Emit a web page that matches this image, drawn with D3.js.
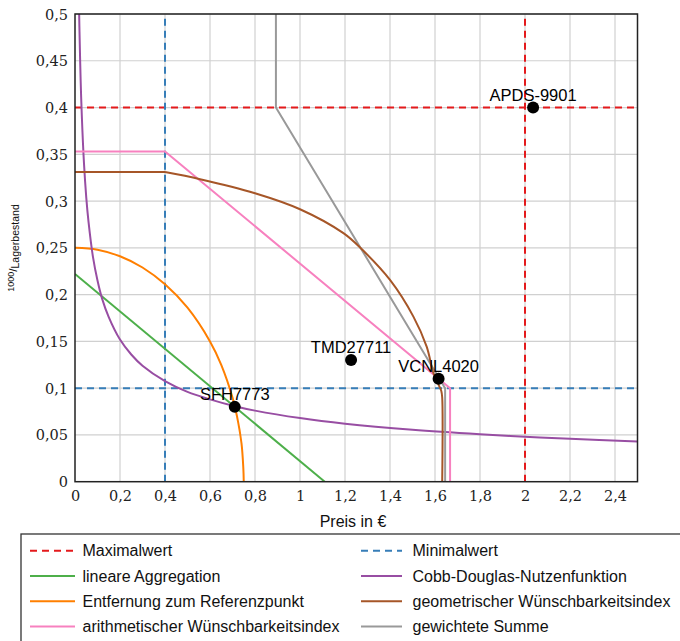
<!DOCTYPE html>
<html>
<head>
<meta charset="utf-8">
<script src="https://cdn.jsdelivr.net/npm/d3@7"></script>
<style>
  body { margin: 0; background: #fff; }
  svg { display: block; }
</style>
</head>
<body>
<svg id="chart"></svg>
<script>
// values
const xTicks = [0, 0.2, 0.4, 0.6, 0.8, 1, 1.2, 1.4, 1.6, 1.8, 2, 2.2, 2.4];
const yTicks = [0, 0.05, 0.1, 0.15, 0.2, 0.25, 0.3, 0.35, 0.4, 0.45, 0.5];

const maxX = 2, maxY = 0.4;
const minX = 0.4, minY = 0.1;

const linearX = [0, 1.11];
const linearY = [0.222, 0];

const cobbX = [0.0185, 0.02, 0.025, 0.03, 0.04, 0.05, 0.06, 0.08, 0.1, 0.12, 0.15, 0.2, 0.25, 0.3, 0.4, 0.5, 0.6, 0.71, 0.8, 1, 1.2, 1.5, 1.8, 2, 2.2, 2.5];
const cobbY = [0.5, 0.481, 0.43, 0.393, 0.34, 0.304, 0.278, 0.24, 0.215, 0.196, 0.176, 0.152, 0.136, 0.124, 0.1075, 0.096, 0.088, 0.0807, 0.076, 0.068, 0.062, 0.0555, 0.0507, 0.0481, 0.0458, 0.043];

const refX = [0, 0.1, 0.2, 0.3, 0.4, 0.5, 0.6, 0.65, 0.7, 0.72, 0.74, 0.748, 0.75];
const refY = [0.25, 0.248, 0.241, 0.229, 0.211, 0.186, 0.15, 0.125, 0.09, 0.07, 0.041, 0.015, 0];

// geometric index: flat part, then the rounded part, then the drop to zero
const geoFlatX = [0, 0.4];
const geoFlatY = [0.331, 0.331];
const geoX = [0.4, 0.556, 0.8, 1.0, 1.193, 1.267, 1.4, 1.504, 1.563, 1.593, 1.615, 1.628, 1.632, 1.632];
const geoY = [0.331, 0.3234, 0.3084, 0.2913, 0.2657, 0.2503, 0.2157, 0.1765, 0.1444, 0.116, 0.104, 0.097, 0.09, 0];

const arithX = [0, 0.4, 1.667, 1.667];
const arithY = [0.353, 0.353, 0.1, 0];

const sumX = [0.893, 0.893, 1.645, 1.645];
const sumY = [0.5, 0.4, 0.1, 0];

const pointNames = ["SFH7773", "TMD27711", "VCNL4020", "APDS-9901"];
const pointX = [0.71, 1.227, 1.616, 2.036];
const pointY = [0.08, 0.13, 0.11, 0.4];

const legendLabels = ["Maximalwert", "Minimalwert", "lineare Aggregation", "Cobb-Douglas-Nutzenfunktion",
  "Entfernung zum Referenzpunkt", "geometrischer Wünschbarkeitsindex", "arithmetischer Wünschbarkeitsindex", "gewichtete Summe"];

const colors = {
  max: "#e41a1c", min: "#377eb8", linear: "#4daf4a", cobb: "#984ea3",
  ref: "#ff7f00", geo: "#a65628", arith: "#f781bf", sum: "#999999"
};

const width = 680, height = 641;
const margin = { top: 14, left: 75 };
const innerWidth = 562.5, innerHeight = 467.7;
const sans = "'Liberation Sans', Arial, sans-serif";

const svg = d3.select("#chart").attr("width", width).attr("height", height);
const g = svg.append("g").attr("transform", `translate(${margin.left},${margin.top})`);

const x = d3.scaleLinear().domain([0, 2.5]).range([0, innerWidth]);
const y = d3.scaleLinear().domain([0, 0.5]).range([innerHeight, 0]);

const fmt = (v) => String(+v.toFixed(2)).replace(".", ",");

// grid
g.append("g").selectAll("line").data(xTicks.slice(1)).join("line")
  .attr("x1", (d) => x(d)).attr("x2", (d) => x(d)).attr("y1", 0).attr("y2", innerHeight)
  .attr("stroke", "#d0d0d0").attr("stroke-width", 1.2);
g.append("g").selectAll("line").data(yTicks.slice(1)).join("line")
  .attr("y1", (d) => y(d)).attr("y2", (d) => y(d)).attr("x1", 0).attr("x2", innerWidth)
  .attr("stroke", "#d0d0d0").attr("stroke-width", 1.2);

// axes
const xAxis = g.append("g").attr("transform", `translate(0,${innerHeight})`)
  .call(d3.axisBottom(x).tickValues(xTicks).tickFormat(fmt).tickSize(0).tickPadding(8));
const yAxis = g.append("g")
  .call(d3.axisLeft(y).tickValues(yTicks).tickFormat(fmt).tickSize(0).tickPadding(7));
[xAxis, yAxis].forEach((a) => {
  a.attr("fill", null);
  a.select(".domain").remove();
  a.selectAll(".tick line").remove();
  a.selectAll("text").attr("fill", "#222").attr("dy", null)
    .attr("font-family", "'DejaVu Serif', serif").attr("font-size", 14.5);
});
xAxis.selectAll("text").attr("x", 0).attr("y", 19).attr("text-anchor", "middle");
yAxis.selectAll("text").attr("x", -7).attr("y", 5).attr("text-anchor", "end");

// reference lines
const dashed = (x1, y1, x2, y2, c) => g.append("line")
  .attr("x1", x(x1)).attr("y1", y(y1)).attr("x2", x(x2)).attr("y2", y(y2))
  .attr("stroke", c).attr("stroke-width", 2).attr("stroke-dasharray", "7,5");
dashed(0, maxY, 2.5, maxY, colors.max);
dashed(maxX, 0, maxX, 0.5, colors.max);
dashed(0, minY, 2.5, minY, colors.min);
dashed(minX, 0, minX, 0.5, colors.min);

// curves
const straight = d3.line().x((d) => x(d[0])).y((d) => y(d[1]));
const smooth = d3.line().x((d) => x(d[0])).y((d) => y(d[1])).curve(d3.curveCatmullRom.alpha(0.5));
const series = [
  [linearX, linearY, colors.linear, straight],
  [refX, refY, colors.ref, smooth],
  [cobbX, cobbY, colors.cobb, smooth],
  [arithX, arithY, colors.arith, straight],
  [sumX, sumY, colors.sum, straight],
  [geoFlatX, geoFlatY, colors.geo, straight],
  [geoX, geoY, colors.geo, smooth]
];
svg.append("clipPath").attr("id", "clip").append("rect")
  .attr("width", innerWidth).attr("height", innerHeight);
series.forEach(([xs, ys, c, gen]) => {
  g.append("path").datum(xs.map((v, i) => [v, ys[i]]))
    .attr("clip-path", "url(#clip)")
    .attr("d", gen).attr("fill", "none").attr("stroke", c).attr("stroke-width", 2);
});

// frame
g.append("rect").attr("width", innerWidth).attr("height", innerHeight)
  .attr("fill", "none").attr("stroke", "#222").attr("stroke-width", 1.5);

// points
g.selectAll(".pt").data(pointNames).join("circle").attr("class", "pt")
  .attr("cx", (d, i) => x(pointX[i])).attr("cy", (d, i) => y(pointY[i])).attr("r", 6).attr("fill", "#000");
g.selectAll(".ptl").data(pointNames).join("text").attr("class", "ptl")
  .attr("x", (d, i) => x(pointX[i])).attr("y", (d, i) => y(pointY[i]) - 7)
  .attr("text-anchor", "middle").attr("font-family", sans)
  .attr("font-size", 16.5).attr("fill", "#000").text((d) => d);

// axis titles
svg.append("text").attr("x", 353).attr("y", 527)
  .attr("text-anchor", "middle").attr("font-family", sans)
  .attr("font-size", 16).attr("fill", "#111").text("Preis in €");

const yl = svg.append("text").attr("transform", "translate(17,248) rotate(-90)")
  .attr("text-anchor", "middle").attr("font-family", sans).attr("fill", "#111");
yl.append("tspan").attr("font-size", 9).attr("dy", "-3").text("1000");
yl.append("tspan").attr("font-size", 11.5).attr("dy", "3").text("/");
yl.append("tspan").attr("font-size", 10.5).attr("dy", "2").text("Lagerbestand");

// legend
const legend = svg.append("g");
legend.append("rect").attr("x", 21).attr("y", 534).attr("width", 670).attr("height", 120)
  .attr("fill", "#fff").attr("stroke", "#333").attr("stroke-width", 1.3);
const legendColors = [colors.max, colors.min, colors.linear, colors.cobb, colors.ref, colors.geo, colors.arith, colors.sum];
legendLabels.forEach((lab, i) => {
  const col = i % 2, row = Math.floor(i / 2);
  const lx = col === 0 ? 30 : 361;
  const ly = 550.7 + row * 25.3;
  legend.append("line").attr("x1", lx).attr("x2", lx + (col === 0 ? 45 : 41)).attr("y1", ly).attr("y2", ly)
    .attr("stroke", legendColors[i]).attr("stroke-width", 2)
    .attr("stroke-dasharray", i < 2 ? "7,5" : null);
  legend.append("text").attr("x", col === 0 ? 82.5 : 412.5).attr("y", ly + 5.5)
    .attr("font-family", sans).attr("font-size", 16)
    .attr("fill", "#111").text(lab);
});
</script>
</body>
</html>
